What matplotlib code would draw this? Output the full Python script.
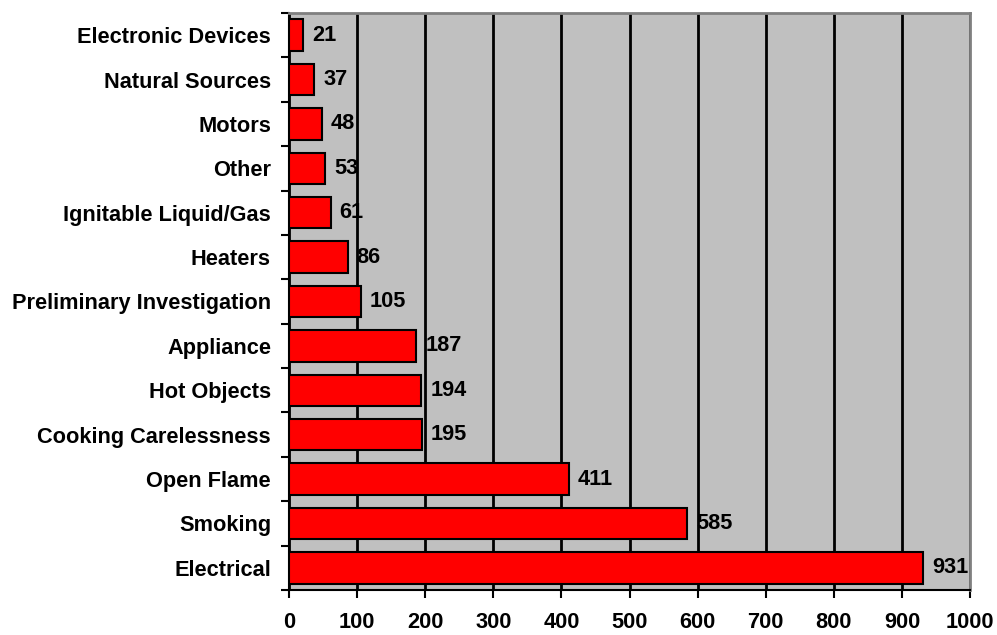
import matplotlib
matplotlib.use('Agg')
import matplotlib.pyplot as plt

# fire causes, bottom -> top as drawn
causes = ['Electrical', 'Smoking', 'Open Flame', 'Cooking Carelessness', 'Hot Objects',
          'Appliance', 'Preliminary Investigation', 'Heaters', 'Ignitable Liquid/Gas',
          'Other', 'Motors', 'Natural Sources', 'Electronic Devices']
counts = [931, 585, 411, 195, 194, 187, 105, 86, 61, 53, 48, 37, 21]
xticks = list(range(0, 1001, 100))

plt.rcParams['font.family'] = ['Liberation Sans', 'DejaVu Sans']
plt.rcParams['font.weight'] = 'bold'
FS = 15.7

fig = plt.figure(figsize=(9.97, 6.35), dpi=100)
ax = fig.add_axes([0.2899, 0.0709, 0.9729 - 0.2899, 0.9795 - 0.0709])
ax.set_facecolor('#C0C0C0')

ypos = range(len(causes))
ax.barh(ypos, counts, height=0.71, color='#FF0000', edgecolor='black', lw=1.5, zorder=3)
for y, v in zip(ypos, counts):
    ax.annotate(str(v), (v, y), xytext=(6.5, 0), textcoords='offset points',
                va='center', ha='left', fontsize=FS, fontweight='bold', zorder=4)

ax.set_xlim(0, 1000)
ax.set_ylim(-0.5, len(causes) - 0.5)
ax.set_xticks(xticks)
ax.set_xticklabels([str(t) for t in xticks], fontsize=FS, fontweight='bold')
ax.xaxis.grid(True, color='black', lw=2, zorder=1)
ax.set_axisbelow(True)

# category labels at centers, tick marks at boundaries
ax.set_yticks(list(ypos))
ax.set_yticklabels(causes, fontsize=FS, fontweight='bold')
ax.tick_params(axis='y', which='major', length=0, pad=13)
ax.set_yticks([i - 0.5 for i in range(len(causes) + 1)], minor=True)
ax.tick_params(axis='y', which='minor', length=6, width=1.5, direction='out')
ax.tick_params(axis='x', length=6, width=1.5, direction='out', pad=10)

for s in ('left', 'bottom'):
    ax.spines[s].set_color('black')
    ax.spines[s].set_linewidth(1.5)
for s in ('top', 'right'):
    ax.spines[s].set_color('#808080')
    ax.spines[s].set_linewidth(2)

fig.savefig('out.png', dpi=100)
